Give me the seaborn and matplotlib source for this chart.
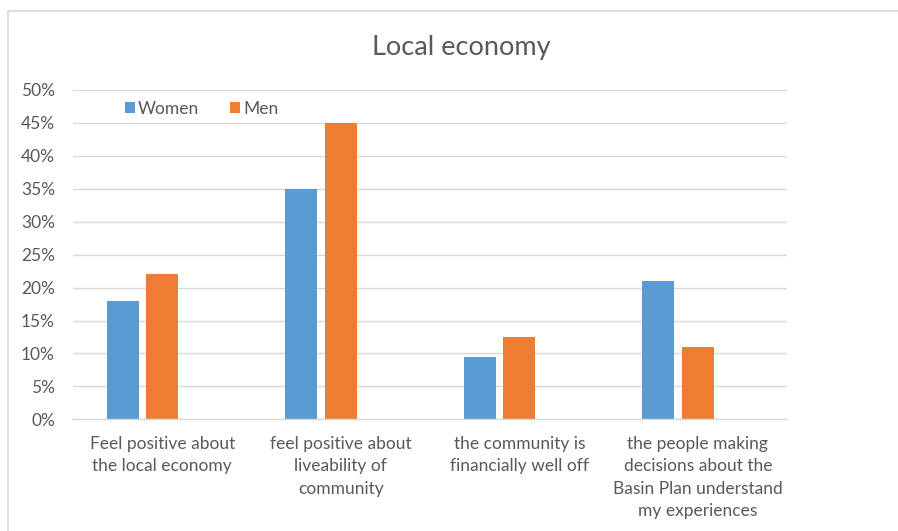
import matplotlib
matplotlib.use("Agg")
import matplotlib.pyplot as plt
import seaborn as sns
import pandas as pd
from matplotlib.lines import Line2D
from matplotlib.patches import Patch
from matplotlib.ticker import FuncFormatter, MultipleLocator

categories = [
    "Feel positive about\nthe local economy",
    "feel positive about\nliveability of\ncommunity",
    "the community is\nfinancially well off",
    "the people making\ndecisions about the\nBasin Plan understand\nmy experiences",
]
women = [0.18, 0.35, 0.095, 0.21]
men = [0.22, 0.45, 0.125, 0.11]
spacer = [0.0, 0.0, 0.0, 0.0]  # empty third series (reserves slot as in original)
series_names = ["Women", "Men", "_blank"]
colors = ["#5B9BD5", "#ED7D31", "#FFFFFF"]

rows = []
for name, vals in zip(series_names, [women, men, spacer]):
    for c, v in zip(categories, vals):
        rows.append({"category": c, "series": name, "value": v})
df = pd.DataFrame(rows)

sns.set_theme(style="white")
plt.rcParams["font.family"] = ["Lato", "DejaVu Sans"]
text_color = "#595959"
grid_color = "#D9D9D9"
fs = 12.5

fig = plt.figure(figsize=(8.98, 5.31), dpi=100)
ax = fig.add_axes([73 / 898, 1 - 419.3 / 531, (787 - 73) / 898, (419.3 - 90) / 531])

sns.barplot(data=df, x="category", y="value", hue="series", order=categories,
            hue_order=series_names, palette=colors, width=0.664, gap=0.2,
            errorbar=None, ax=ax, legend=False, linewidth=0, saturation=1)

ax.set_ylim(0, 0.5)
ax.set_xlim(-0.5, 3.5)
ax.yaxis.set_major_locator(MultipleLocator(0.05))
ax.yaxis.set_major_formatter(FuncFormatter(lambda v, p: f"{round(v * 100)}%"))
ax.grid(axis="y", color=grid_color, linewidth=1.0)
ax.set_axisbelow(True)
for s in ["top", "right", "left"]:
    ax.spines[s].set_visible(False)
ax.spines["bottom"].set_color(grid_color)
ax.spines["bottom"].set_linewidth(1.0)
ax.set_xlabel("")
ax.set_ylabel("")
ax.tick_params(axis="y", length=0, pad=13, labelsize=fs, labelcolor=text_color)
ax.tick_params(axis="x", length=0, pad=12, labelsize=fs, labelcolor=text_color)
for lab in ax.get_xticklabels():
    lab.set_linespacing(1.5)

fig.text(461 / 898, 1 - 47 / 531, "Local economy", ha="center", va="center",
         fontsize=19.5, color=text_color)

handles = [Patch(facecolor=colors[0], edgecolor="none", label="Women"),
           Patch(facecolor=colors[1], edgecolor="none", label="Men")]
ax.legend(handles=handles, loc="center left", bbox_to_anchor=(52 / 714, (419.3 - 109) / 329.3),
          ncol=2, frameon=False, fontsize=fs, handlelength=0.58, handleheight=0.58,
          handletextpad=0.18, columnspacing=1.75, labelcolor=text_color, borderaxespad=0,
          borderpad=0)

# outer chart border (top and left edges visible)
fig.add_artist(Line2D([8 / 898, 1.0], [1 - 11 / 531, 1 - 11 / 531], color=grid_color, linewidth=1.2,
                      transform=fig.transFigure))
fig.add_artist(Line2D([8 / 898, 8 / 898], [0, 1 - 11 / 531], color=grid_color, linewidth=1.2,
                      transform=fig.transFigure))

fig.savefig("out.png", dpi=100, facecolor="white")
